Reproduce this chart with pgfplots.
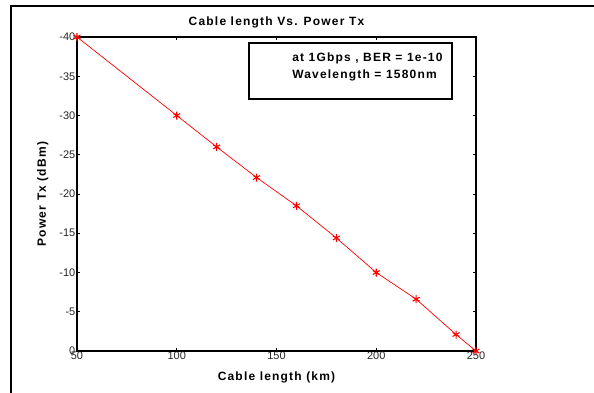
\documentclass[border=0pt]{standalone}
\usepackage{pgfplots}
\pgfplotsset{compat=1.18}
\usepackage{fontspec}
\setmainfont{Liberation Sans}
\newfontfamily\boldsp[LetterSpace=10,BoldFont={Liberation Sans Bold}]{Liberation Sans}
\definecolor{ticktxt}{RGB}{40,40,40}
\begin{document}
\begin{tikzpicture}
\useasboundingbox (0pt,0pt) rectangle (594pt,392pt);
\fill[white] (0pt,0pt) rectangle (594pt,392pt);
\draw[line width=1.6pt] (11pt,-20pt) -- (11pt,386pt) -- (620pt,386pt);
\begin{axis}[
  at={(276.5pt,198pt)}, anchor=center,
  scale only axis, width=399pt, height=314pt,
  xmin=50, xmax=250, ymin=-40, ymax=0,
  y dir=reverse,
  xtick={50,100,150,200,250},
  ytick={-40,-35,-30,-25,-20,-15,-10,-5,0},
  tick align=inside,
  major tick length=3pt,
  tick style={black, line width=0.8pt},
  axis line style={line width=1.1pt},
  /pgf/number format/assume math mode=true,
  ticklabel style={font=\fontsize{11}{12}\selectfont, text=ticktxt},
  xticklabel style={inner sep=1pt},
  yticklabel style={inner sep=1.5pt},
  title={\boldsp\bfseries\fontsize{12}{13}\selectfont Cable length Vs. Power Tx},
  title style={at={(0.5,1)}, anchor=south, yshift=-1pt},
  xlabel={\boldsp\bfseries\fontsize{12}{13}\selectfont Cable length (km)},
  ylabel={\boldsp\bfseries\fontsize{12}{13}\selectfont Power Tx (dBm)},
  xlabel style={yshift=-7pt},
  ylabel style={yshift=6pt},
  clip=false,
]
\addplot[red, line width=0.7pt, mark=asterisk, mark size=4pt, mark options={line width=1.1pt}]
coordinates {(50,-40) (100,-30) (120,-26) (140,-22.1) (160,-18.5) (180,-14.4) (200,-10) (220,-6.6) (240,-2.1) (250,0)};
\draw[line width=2pt] (rel axis cs:0,0) -- (rel axis cs:1,0);
\draw[line width=1.4pt] (rel axis cs:0.431,0.803) rectangle (rel axis cs:0.94,0.981);
\node[anchor=west, inner sep=0pt, font=\boldsp\bfseries\fontsize{12}{13}\selectfont] at (rel axis cs:0.539,0.933) {at 1Gbps , BER = 1e-10};
\node[anchor=west, inner sep=0pt, font=\boldsp\bfseries\fontsize{12}{13}\selectfont] at (rel axis cs:0.539,0.879) {Wavelength = 1580nm};
\end{axis}
\end{tikzpicture}
\end{document}
